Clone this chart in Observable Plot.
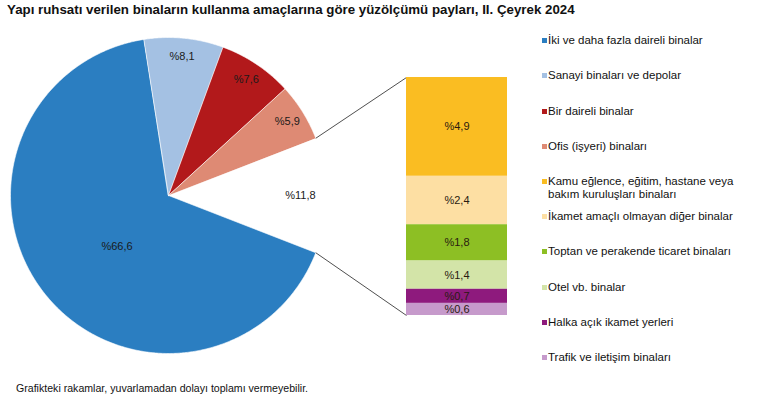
<!DOCTYPE html>
<html><head><meta charset="utf-8">
<script src="https://cdn.jsdelivr.net/npm/d3@7"></script>
<script src="https://cdn.jsdelivr.net/npm/@observablehq/plot@0.6"></script>
<style>
body{margin:0;background:#fff;}
#c{position:relative;width:759px;height:399px;font-family:"Liberation Sans",Arial,sans-serif;color:#111;overflow:hidden;background:#fff}
#title{position:absolute;left:7px;top:2px;font-weight:bold;font-size:13.3px;white-space:nowrap;color:#111}
#foot{position:absolute;left:16px;top:382px;font-size:10.6px;white-space:nowrap;color:#111}
#pie{position:absolute;left:0;top:20px}
#bar{position:absolute;left:406px;top:77px}
.lg{position:absolute;left:548px;width:205px;font-size:11.5px;line-height:12.5px;color:#111}
.sw{position:absolute;left:-6px;top:4px;width:5px;height:5px}
</style></head><body>
<div id="c">
  <div id="title"></div>
  <div id="pie"></div>
  <div id="bar"></div>
  <div id="legend"></div>
  <div id="foot"></div>
</div>
<script>
const titleText = "Yapı ruhsatı verilen binaların kullanma amaçlarına göre yüzölçümü payları, II. Çeyrek 2024";
const footText = "Grafikteki rakamlar, yuvarlamadan dolayı toplamı vermeyebilir.";

const pieCategories = ["İki ve daha fazla daireli binalar", "Sanayi binaları ve depolar", "Bir daireli binalar", "Ofis (işyeri) binaları"];
const pieValues = [66.6, 8.1, 7.6, 5.9];
const pieColors = ["#2b7ec1", "#a4c1e3", "#b2191b", "#de8a74"];
const otherValue = 11.8;

const barCategories = ["Kamu eğlence, eğitim, hastane veya bakım kuruluşları binaları", "İkamet amaçlı olmayan diğer binalar", "Toptan ve perakende ticaret binaları", "Otel vb. binalar", "Halka açık ikamet yerleri", "Trafik ve iletişim binaları"];
const barValues = [4.9, 2.4, 1.8, 1.4, 0.7, 0.6];
const barColors = ["#fabd22", "#fddfa3", "#8dbf24", "#d3e4a8", "#8e1a7d", "#c69acb"];

const fmt = v => "%" + v.toFixed(1).replace(".", ",");

document.getElementById("title").textContent = titleText;
document.getElementById("foot").textContent = footText;

// ---- bar (breakdown of the "other" slice) ----
const barData = barCategories.map((c, i) => ({cat: c, value: barValues[i], label: fmt(barValues[i])}));
const barW = 101, barH = 238;
const barPlot = Plot.plot({
  width: barW, height: barH, margin: 0,
  style: {background: "transparent", overflow: "visible"},
  x: {axis: null, padding: 0},
  y: {axis: null, domain: [0, d3.sum(barValues)]},
  color: {domain: barCategories, range: barColors},
  marks: [
    Plot.barY(barData, Plot.stackY({x: () => "b", y: "value", fill: "cat", reverse: true})),
    Plot.text(barData, Plot.stackY({x: () => "b", y: "value", text: "label", reverse: true, fontSize: 11, fill: "#2a1a10", fontFamily: "Liberation Sans, Arial, sans-serif"}))
  ]
});
document.getElementById("bar").appendChild(barPlot);

// ---- pie ----
const W = 520, H = 360;
const cx = 168, cy = 175, R = 158;
const barLeft = 406, barTop = 77 - 20; // bar position in pie coordinates
const total = d3.sum(pieValues) + otherValue;
const deg = v => v / total * 360;
let a = 90 + deg(otherValue) / 2; // start after the gap (clockwise from north)
const pt = (ang, r) => ({x: cx + r * Math.sin(ang * Math.PI / 180), y: cy - r * Math.cos(ang * Math.PI / 180)});
const polys = [], labels = [];
pieCategories.forEach((c, i) => {
  const a0 = a, a1 = a + deg(pieValues[i]);
  polys.push({cat: c, ...pt(0, 0)});
  const n = Math.max(2, Math.ceil((a1 - a0) / 0.5));
  for (let k = 0; k <= n; k++) polys.push({cat: c, ...pt(a0 + (a1 - a0) * k / n, R)});
  const lr = pieValues[i] > 50 ? 0.46 : 0.885;
  labels.push({text: fmt(pieValues[i]), ...pt(pieValues[i] > 50 ? (a0 + a1) / 2 - 6 : (a0 + a1) / 2, R * lr)});
  a = a1;
});
const gapStart = 90 - deg(otherValue) / 2, gapEnd = 90 + deg(otherValue) / 2;
labels.push({text: fmt(otherValue), ...pt(90, R * 0.835)});

const ys = barPlot.scale("y");
const topY = barTop + ys.apply(d3.sum(barValues));
const botY = barTop + ys.apply(0);
const links = [
  {x1: pt(gapStart, R).x, y1: pt(gapStart, R).y, x2: barLeft, y2: topY},
  {x1: pt(gapEnd, R).x, y1: pt(gapEnd, R).y, x2: barLeft, y2: botY}
];

const piePlot = Plot.plot({
  width: W, height: H, margin: 0,
  style: {background: "transparent"},
  x: {axis: null, domain: [0, W], range: [0, W]},
  y: {axis: null, domain: [0, H], range: [0, H]},
  color: {domain: pieCategories, range: pieColors},
  marks: [
    Plot.line(polys, {x: "x", y: "y", z: "cat", fill: "cat", stroke: "#ffffff", strokeWidth: 0.6, curve: "linear-closed"}),
    Plot.link(links, {x1: "x1", y1: "y1", x2: "x2", y2: "y2", stroke: "#222", strokeWidth: 0.8}),
    Plot.text(labels, {x: "x", y: "y", text: "text", fontSize: 11, fill: "#1a1a1a", fontFamily: "Liberation Sans, Arial, sans-serif"})
  ]
});
document.getElementById("pie").appendChild(piePlot);

// ---- legend ----
const legendCats = [...pieCategories, ...barCategories];
const legendColors = [...pieColors, ...barColors];
const lg = document.getElementById("legend");
legendCats.forEach((c, i) => {
  const d = document.createElement("div");
  d.className = "lg";
  d.style.top = (40.7 + 35.2 * i - 6.5) + "px";
  const s = document.createElement("span");
  s.className = "sw";
  s.style.background = legendColors[i];
  d.appendChild(s);
  d.appendChild(document.createTextNode(c));
  lg.appendChild(d);
});
</script>
</body></html>
